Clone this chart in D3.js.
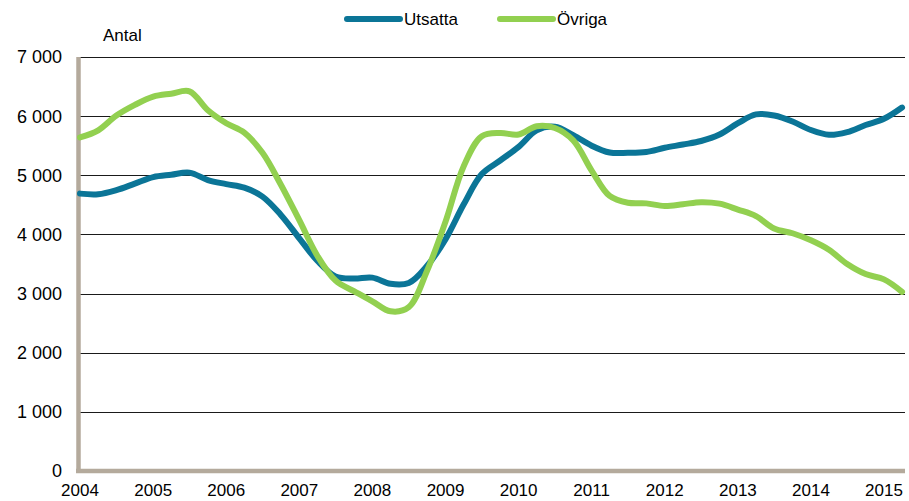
<!DOCTYPE html>
<html>
<head>
<meta charset="utf-8">
<script src="https://cdn.jsdelivr.net/npm/d3@7"></script>
<style>
  body { margin: 0; background: #fff; }
  text { font-family: "Liberation Sans", Arial, sans-serif; fill: #000; }
  .grid line { stroke: #1a1a1a; stroke-width: 1; }
  .line { fill: none; stroke-width: 6; stroke-linecap: round; stroke-linejoin: round; }
</style>
</head>
<body>
<div id="chart"></div>
<script>
// quarterly values, 2004 Q1 .. 2015 Q2
var utsatta = [4690, 4680, 4750, 4860, 4970, 5010, 5045, 4920,
               4850, 4790, 4640, 4330, 3935, 3555, 3290, 3255,
               3270, 3165, 3180, 3470, 3920, 4505, 5020, 5250,
               5480, 5760, 5820, 5680, 5500, 5385, 5380, 5395,
               5465, 5520, 5580, 5690, 5880, 6030, 6010, 5910,
               5765, 5685, 5730, 5850, 5955, 6145];
var ovriga = [5640, 5760, 6010, 6190, 6330, 6380, 6420, 6100,
              5880, 5720, 5380, 4840, 4240, 3640, 3220, 3040,
              2870, 2700, 2770, 3390, 4220, 5150, 5660, 5715,
              5690, 5830, 5800, 5590, 5080, 4650, 4535, 4525,
              4480, 4510, 4545, 4520, 4420, 4310, 4100, 4020,
              3900, 3740, 3500, 3330, 3240, 3030];
var years = [2004, 2005, 2006, 2007, 2008, 2009, 2010, 2011, 2012, 2013, 2014, 2015];
var yTicks = [0, 1000, 2000, 3000, 4000, 5000, 6000, 7000];
var seriesNames = ["Utsatta", "Övriga"];
var colors = ["#0b7597", "#92d050"];

var width = 909, height = 501;
var margin = {left: 80, right: 905, top: 57, bottom: 471};

var quarters = d3.timeMonth.every(3).range(new Date(2004, 0, 1), new Date(2015, 4, 1));

var svg = d3.select("#chart").append("svg")
    .attr("width", width)
    .attr("height", height);

var x = d3.scaleTime()
    .domain([new Date(2004, 0, 1), new Date(2015, 0, 1)])
    .range([margin.left, 884]);
var y = d3.scaleLinear().domain([0, 7000]).range([margin.bottom, margin.top]);

var fmt = function(v) { return d3.format(",")(v).replace(",", " "); };

// gridlines
svg.append("g").attr("class", "grid")
  .selectAll("line")
  .data(yTicks.filter(function(d) { return d > 0; }))
  .enter().append("line")
    .attr("x1", margin.left).attr("x2", margin.right)
    .attr("y1", function(d) { return Math.round(y(d)) + 0.5; })
    .attr("y2", function(d) { return Math.round(y(d)) + 0.5; });

// y labels
svg.append("g").selectAll("text")
  .data(yTicks)
  .enter().append("text")
    .attr("x", 62)
    .attr("y", function(d) { return y(d); })
    .attr("dy", "0.36em")
    .attr("text-anchor", "end")
    .style("font-size", "18px")
    .text(fmt);

// x labels
svg.append("g").selectAll("text")
  .data(years)
  .enter().append("text")
    .attr("x", function(d) { return x(new Date(d, 0, 1)); })
    .attr("y", 496)
    .attr("text-anchor", "middle")
    .style("font-size", "17px")
    .text(function(d) { return d; });

// axis lines (tan)
svg.append("line")
    .attr("x1", 78.5).attr("x2", 78.5)
    .attr("y1", margin.top).attr("y2", margin.bottom + 2)
    .attr("stroke", "#b4aa9c").attr("stroke-width", 4.5);
svg.append("line")
    .attr("x1", 76).attr("x2", margin.right)
    .attr("y1", margin.bottom).attr("y2", margin.bottom)
    .attr("stroke", "#b4aa9c").attr("stroke-width", 4.5);

// lines
var line = d3.line()
    .x(function(d, i) { return x(quarters[i]); })
    .y(function(d) { return y(d); })
    .curve(d3.curveCatmullRom.alpha(0.5));

[utsatta, ovriga].forEach(function(s, i) {
  svg.append("path")
      .datum(s)
      .attr("class", "line")
      .attr("stroke", colors[i])
      .attr("d", line);
});

// axis title
svg.append("text")
    .attr("x", 103).attr("y", 41)
    .style("font-size", "17px")
    .text("Antal");

// legend
var legendX = [347, 500];
var legend = svg.append("g").selectAll("g")
  .data(seriesNames)
  .enter().append("g")
    .attr("transform", function(d, i) { return "translate(" + legendX[i] + ",19)"; });
legend.append("line")
    .attr("x1", 0).attr("x2", 53)
    .attr("stroke", function(d, i) { return colors[i]; })
    .attr("stroke-width", 6)
    .attr("stroke-linecap", "round");
legend.append("text")
    .attr("x", 57).attr("dy", "0.36em")
    .style("font-size", "17px")
    .text(function(d) { return d; });
</script>
</body>
</html>
